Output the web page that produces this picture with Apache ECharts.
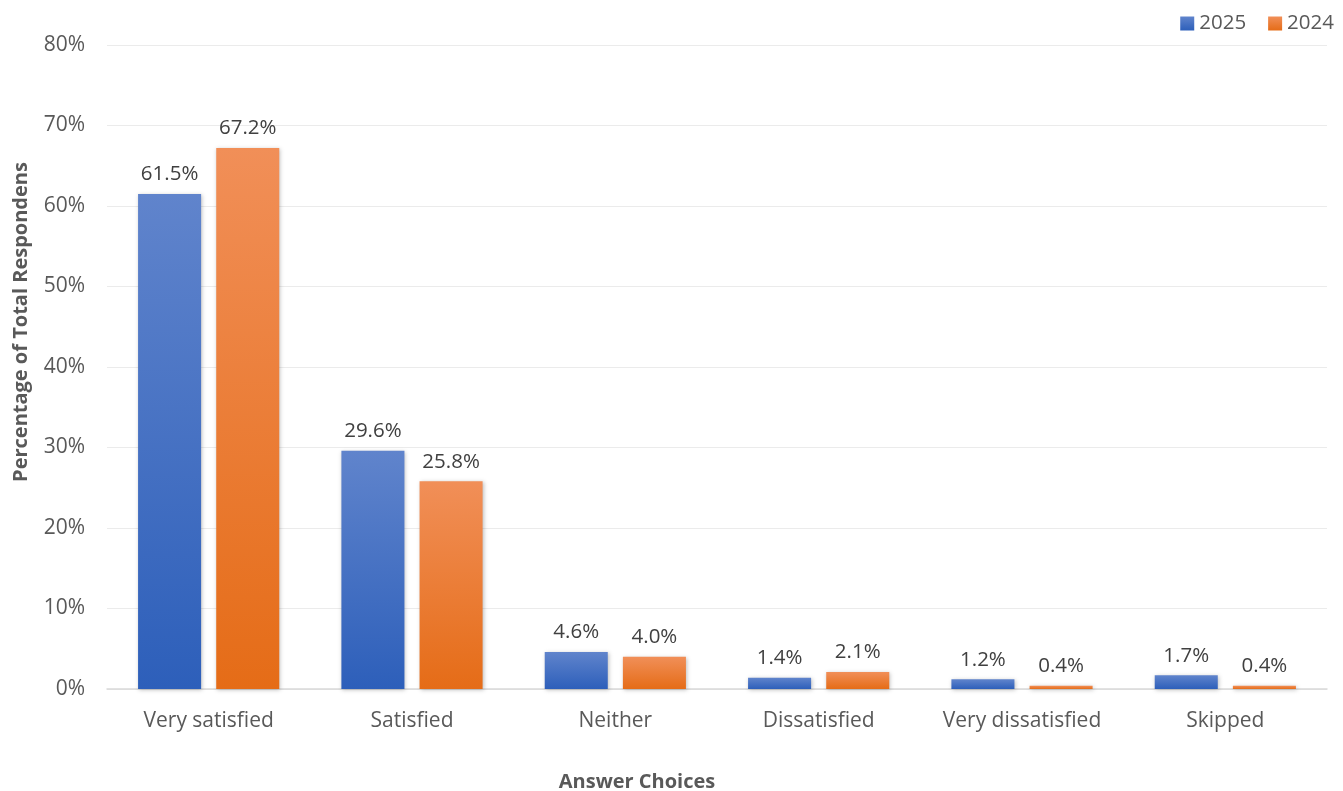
<!DOCTYPE html>
<html>
<head>
<meta charset="utf-8">
<title>Satisfaction 2025 vs 2024</title>
<script src="https://cdn.jsdelivr.net/npm/echarts@6/dist/echarts.min.js"></script>
<style>
  html, body { margin: 0; padding: 0; background: #fff; }
  #chart { width: 1343px; height: 791px; }
</style>
</head>
<body>
<div id="chart"></div>
<script>
// answer choices on the x axis
const categories = ['Very satisfied', 'Satisfied', 'Neither', 'Dissatisfied', 'Very dissatisfied', 'Skipped'];
// percentages of total respondents
const values2025 = [61.5, 29.6, 4.6, 1.4, 1.2, 1.7];
const values2024 = [67.2, 25.8, 4.0, 2.1, 0.4, 0.4];
const yTicks = [0, 10, 20, 30, 40, 50, 60, 70, 80];

const font = '"Open Sans", Lato, sans-serif';
const textColor = '#595959';

function grad(top, bottom) {
  return new echarts.graphic.LinearGradient(0, 0, 0, 1, [
    { offset: 0, color: top },
    { offset: 1, color: bottom }
  ]);
}

function makeSeries(name, data, top, bottom) {
  return {
    name: name,
    type: 'bar',
    data: data,
    barWidth: '31%',
    barGap: '24%',
    itemStyle: {
      color: grad(top, bottom),
      shadowColor: 'rgba(0,0,0,0.25)',
      shadowBlur: 4,
      shadowOffsetX: 1,
      shadowOffsetY: 1
    },
    label: {
      show: true,
      position: 'top',
      distance: 9,
      fontFamily: font,
      fontSize: 20.5,
      color: '#404040',
      formatter: p => p.value.toFixed(1) + '%'
    }
  };
}

const chart = echarts.init(document.getElementById('chart'));

chart.setOption({
  backgroundColor: '#ffffff',
  animation: false,
  legend: {
    right: 4,
    top: 8,
    itemWidth: 14,
    itemHeight: 14,
    itemGap: 22,
    icon: 'rect',
    textStyle: { fontFamily: font, fontSize: 20.5, color: textColor },
    data: ['2025', '2024']
  },
  grid: { left: 107, right: 16, top: 45, bottom: 102, containLabel: false, outerBoundsMode: 'none' },
  xAxis: {
    type: 'category',
    data: categories,
    name: 'Answer Choices',
    nameLocation: 'middle',
    nameGap: 83,
    nameTextStyle: { fontFamily: font, fontSize: 20, fontWeight: 'bold', color: textColor, padding: [0, 160, 0, 0] },
    axisLine: { lineStyle: { color: '#d9d9d9', width: 1.5 } },
    axisTick: { show: false },
    axisLabel: { interval: 0, hideOverlap: false, fontFamily: font, fontSize: 21, color: textColor, margin: 22 }
  },
  yAxis: {
    type: 'value',
    min: yTicks[0],
    max: yTicks[yTicks.length - 1],
    interval: 10,
    name: 'Percentage of Total Respondens',
    nameLocation: 'middle',
    nameGap: 76,
    nameTextStyle: { fontFamily: font, fontSize: 20, fontWeight: 'bold', color: textColor, padding: [0, 0, 0, 90] },
    axisLine: { show: false },
    axisTick: { show: false },
    axisLabel: { fontFamily: font, fontSize: 21, color: textColor, margin: 22, formatter: '{value}%' },
    splitLine: { lineStyle: { color: '#ebebeb', width: 1.2 } }
  },
  series: [
    makeSeries('2025', values2025, '#6084CC', '#2D5FBA'),
    makeSeries('2024', values2024, '#F18F58', '#E56C17')
  ]
});
</script>
</body>
</html>
